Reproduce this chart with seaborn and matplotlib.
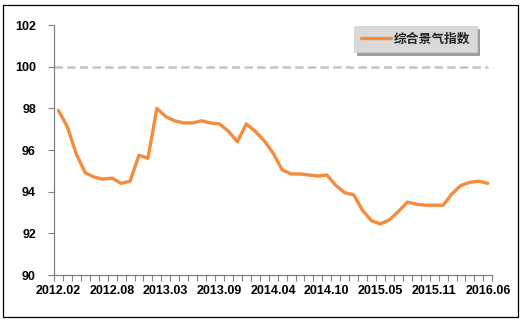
import numpy as np
import pandas as pd
import seaborn as sns
import matplotlib
matplotlib.use("Agg")
import matplotlib.pyplot as plt
from matplotlib.patches import Rectangle
from matplotlib.ticker import FixedLocator

# Monthly composite climate index (January folded into February each year)
months = [
    "2012.02", "2012.03", "2012.04", "2012.05", "2012.06", "2012.07", "2012.08",
    "2012.09", "2012.10", "2012.11", "2012.12",
    "2013.02", "2013.03", "2013.04", "2013.05", "2013.06", "2013.07", "2013.08",
    "2013.09", "2013.10", "2013.11", "2013.12",
    "2014.02", "2014.03", "2014.04", "2014.05", "2014.06", "2014.07", "2014.08",
    "2014.09", "2014.10", "2014.11", "2014.12",
    "2015.02", "2015.03", "2015.04", "2015.05", "2015.06", "2015.07", "2015.08",
    "2015.09", "2015.10", "2015.11", "2015.12",
    "2016.02", "2016.03", "2016.04", "2016.05", "2016.06",
]
index_values = [
    97.9, 97.1, 95.8, 94.9, 94.7, 94.6, 94.65, 94.4, 94.5, 95.75, 95.6,
    98.0, 97.6, 97.4, 97.3, 97.3, 97.4, 97.3, 97.25, 96.9, 96.4, 97.25,
    96.9, 96.45, 95.85, 95.05, 94.85, 94.85, 94.8, 94.75, 94.8, 94.3, 93.95,
    93.85, 93.1, 92.6, 92.45, 92.65, 93.05, 93.5, 93.4, 93.35, 93.35, 93.35,
    93.9, 94.3, 94.45, 94.5, 94.4,
]
series_name = "综合景气指数"
baseline = 100
y_ticks = [90, 92, 94, 96, 98, 100, 102]
label_step = 6

df = pd.DataFrame({"pos": np.arange(len(months)), "value": index_values, "month": months})

sns.set_theme(style="white")
plt.rcParams["font.family"] = ["Liberation Sans", "Noto Sans CJK SC", "DejaVu Sans"]

fig = plt.figure(figsize=(5.22, 3.23), dpi=100)
ax = fig.add_axes([54 / 522, 1 - 275 / 323, (492.3 - 54) / 522, 250 / 323])

# Reference level
ax.hlines(baseline, -0.5, len(months) - 1, colors="#c6c6c6", linewidth=1.9,
          linestyles=(0, (3.2, 1.6)), zorder=1)

sns.lineplot(data=df, x="pos", y="value", ax=ax, color="#F68B3C", linewidth=2.4,
             label=series_name, solid_joinstyle="round", solid_capstyle="round", zorder=3)

ax.set_xlim(-0.5, len(months) - 0.5)
ax.set_ylim(y_ticks[0], y_ticks[-1])
ax.set_xlabel("")
ax.set_ylabel("")

label_pos = list(range(0, len(months), label_step))
ax.set_xticks(label_pos)
ax.set_xticklabels([months[i] for i in label_pos], fontsize=9, fontweight="bold", color="black")
ax.xaxis.set_minor_locator(FixedLocator(np.arange(-0.5, len(months) + 0.5, 1)))
ax.tick_params(axis="x", which="major", length=0, pad=7)
ax.tick_params(axis="x", which="minor", bottom=True, length=4, width=0.8, color="#808080", direction="out")

ax.set_yticks(y_ticks)
ax.set_yticklabels([str(v) for v in y_ticks], fontsize=9, fontweight="bold", color="black")
ax.tick_params(axis="y", which="major", left=True, length=4, width=0.8, color="#808080",
               direction="out", pad=9)

for side in ("top", "right"):
    ax.spines[side].set_visible(False)
for side in ("left", "bottom"):
    ax.spines[side].set_color("#808080")
    ax.spines[side].set_linewidth(0.9)

leg = ax.legend(loc="upper right", bbox_to_anchor=(0.979, 1.02), frameon=True,
                fancybox=False, shadow=True, facecolor="#d9d9d9", edgecolor="#d0d0d0",
                handlelength=2.4, handletextpad=0.2, borderpad=0.5,
                prop={"family": ["Noto Sans CJK SC", "DejaVu Sans"], "weight": "bold", "size": 9.2})
leg.get_frame().set_linewidth(0.5)

# Outer frame around the whole chart
fig.patches.append(Rectangle((2.7 / 522, 1 - 317.3 / 323), 515.6 / 522, 312.3 / 323,
                             transform=fig.transFigure, fill=False, edgecolor="black",
                             linewidth=0.9))

fig.savefig("out.png", dpi=100)
